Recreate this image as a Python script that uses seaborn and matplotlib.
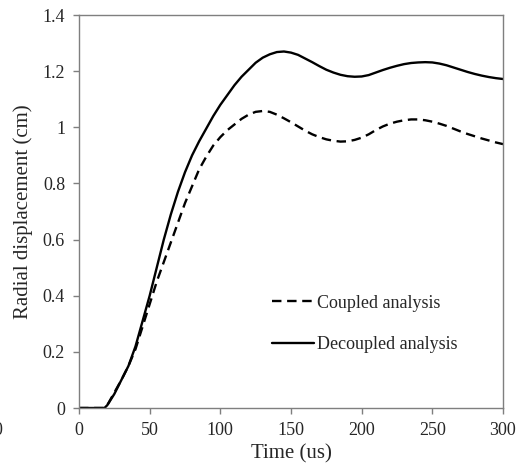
import matplotlib
matplotlib.use("Agg")
import matplotlib.pyplot as plt
import seaborn as sns
import pandas as pd
from matplotlib.lines import Line2D

time_us = [0, 5, 10, 15, 18, 20, 25, 30, 35, 40, 45, 50, 55, 60, 65, 70, 75, 80, 85, 90,
           95, 100, 105, 110, 115, 120, 125, 130, 135, 140, 145, 150, 155, 160, 165, 170,
           175, 180, 185, 190, 195, 200, 205, 210, 215, 220, 225, 230, 235, 240, 245, 250,
           255, 260, 265, 270, 275, 280, 285, 290, 295, 300]

decoupled = [0, 0, 0, 0, 0, 0.01, 0.05, 0.10, 0.15, 0.22, 0.31, 0.40, 0.50, 0.60, 0.69, 0.77,
             0.84, 0.90, 0.95, 0.995, 1.04, 1.08, 1.115, 1.15, 1.18, 1.205, 1.23, 1.248, 1.26,
             1.268, 1.27, 1.266, 1.258, 1.245, 1.232, 1.218, 1.205, 1.195, 1.187, 1.182,
             1.18, 1.181, 1.186, 1.195, 1.204, 1.212, 1.219, 1.225, 1.229, 1.231, 1.232,
             1.231, 1.227, 1.221, 1.213, 1.205, 1.197, 1.19, 1.184, 1.179, 1.175, 1.172]

coupled = [0, 0, 0, 0, 0, 0.01, 0.055, 0.10, 0.15, 0.21, 0.29, 0.37, 0.45, 0.52, 0.59, 0.66,
           0.73, 0.79, 0.85, 0.895, 0.935, 0.965, 0.99, 1.01, 1.03, 1.045, 1.055, 1.058,
           1.055, 1.045, 1.032, 1.018, 1.003, 0.988, 0.975, 0.965, 0.957, 0.952, 0.949,
           0.95, 0.955, 0.963, 0.975, 0.99, 1.003, 1.013, 1.02, 1.025, 1.028, 1.028, 1.025,
           1.02, 1.013, 1.005, 0.995, 0.985, 0.976, 0.968, 0.96, 0.953, 0.946, 0.94]

series_names = ["Coupled analysis", "Decoupled analysis"]
x_ticks = [0, 50, 100, 150, 200, 250, 300]
y_ticks = [0, 0.2, 0.4, 0.6, 0.8, 1.0, 1.2, 1.4]
y_tick_labels = ["0", "0.2", "0.4", "0.6", "0.8", "1", "1.2", "1.4"]

df = pd.DataFrame({
    "Time": time_us * 2,
    "Disp": coupled + decoupled,
    "Series": [series_names[0]] * len(time_us) + [series_names[1]] * len(time_us),
})

sns.set_style("white")
plt.rcParams["font.family"] = ["Liberation Serif", "DejaVu Serif"]

fig = plt.figure(figsize=(5.31, 4.73), dpi=100)
ax = fig.add_axes([79 / 531, 1 - 408 / 473, 424 / 531, 393 / 473])

sns.lineplot(data=df, x="Time", y="Disp", hue="Series", style="Series",
             palette=["black", "black"], dashes={series_names[0]: (4, 2.4), series_names[1]: ""},
             linewidth=1.7, ax=ax, legend=False)

ax.set_xlim(0, 300)
ax.set_ylim(0, 1.4)
ax.set_xticks(x_ticks)
ax.set_xticklabels([str(v) for v in x_ticks])
ax.set_yticks(y_ticks)
ax.set_yticklabels(y_tick_labels)
ax.tick_params(axis="both", direction="out", length=4, width=1, color="#7f7f7f",
               labelsize=13, pad=6, left=True, bottom=True)
for s in ax.spines.values():
    s.set_color("#7f7f7f")
    s.set_linewidth(1.0)
    s.set_visible(True)

ax.set_xlabel("Time (us)", fontsize=15, labelpad=4)
ax.set_ylabel("Radial displacement (cm)", fontsize=15, labelpad=7)

handles = [Line2D([], [], color="black", lw=1.7, dashes=(4, 2.4)),
           Line2D([], [], color="black", lw=1.7)]
ax.legend(handles, series_names, loc="center left", bbox_to_anchor=(0.418, 0.214),
          frameon=False, fontsize=13, handlelength=2.3, handletextpad=0.15,
          labelspacing=1.35)

fig.text(-0.004, (473 - 430) / 473, "0", fontsize=13, ha="center", va="center")

fig.savefig("out.png", dpi=100)
